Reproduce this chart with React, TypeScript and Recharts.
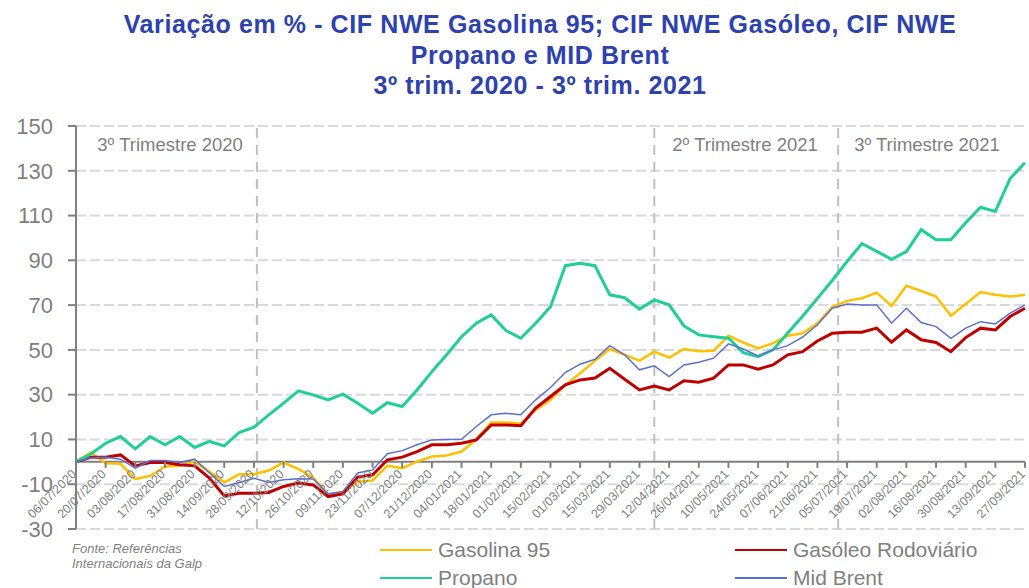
import React from "react";
import {
  LineChart,
  Line,
  XAxis,
  YAxis,
  CartesianGrid,
  ReferenceLine,
} from "recharts";

// weekly dates, one label every 2 weeks on the axis
const DATES = [
  "06/07/2020", "13/07/2020", "20/07/2020", "27/07/2020", "03/08/2020", "10/08/2020",
  "17/08/2020", "24/08/2020", "31/08/2020", "07/09/2020", "14/09/2020", "21/09/2020",
  "28/09/2020", "05/10/2020", "12/10/2020", "19/10/2020", "26/10/2020", "02/11/2020",
  "09/11/2020", "16/11/2020", "23/11/2020", "30/11/2020", "07/12/2020", "14/12/2020",
  "21/12/2020", "28/12/2020", "04/01/2021", "11/01/2021", "18/01/2021", "25/01/2021",
  "01/02/2021", "08/02/2021", "15/02/2021", "22/02/2021", "01/03/2021", "08/03/2021",
  "15/03/2021", "22/03/2021", "29/03/2021", "05/04/2021", "12/04/2021", "19/04/2021",
  "26/04/2021", "03/05/2021", "10/05/2021", "17/05/2021", "24/05/2021", "31/05/2021",
  "07/06/2021", "14/06/2021", "21/06/2021", "28/06/2021", "05/07/2021", "12/07/2021",
  "19/07/2021", "26/07/2021", "02/08/2021", "09/08/2021", "16/08/2021", "23/08/2021",
  "30/08/2021", "06/09/2021", "13/09/2021", "20/09/2021", "27/09/2021",
];

const GASOLINA_95 = [
  0, 4.2, -0.6, -0.9, -7.7, -6.3, -2.1, -1.8, 0.1, -4.3,
  -9.2, -5.5, -5.5, -3.9, -0.3, -3.3, -7, -14.7, -13.7, -8.8,
  -8.3, -1.8, -2.8, 0.1, 2.4, 2.8, 4.6, 10, 17.6, 17.6,
  17, 23.2, 27.7, 34.4, 39.6, 45.1, 50.4, 47.8, 45.2, 49.2,
  46.6, 50.4, 49.4, 49.6, 56.3, 53.3, 50.7, 53, 56.3, 57.4,
  61.9, 69.1, 71.9, 73.1, 75.6, 69.6, 78.6, 76.3, 73.8, 65.3,
  70.5, 75.8, 74.6, 73.8, 74.6,
];

const GASOLEO = [
  0, 2, 2.1, 3.1, -1.8, -0.3, -0.3, -1.3, -1.8, -7.3,
  -15.2, -14, -14, -13.7, -11, -9.5, -10.3, -15.5, -14.3, -6.8,
  -5.8, 0.9, 2.1, 4.6, 7.6, 7.6, 8.3, 9.8, 16.5, 16.5,
  16.1, 24, 29.2, 34.4, 36.6, 37.4, 41.8, 36.9, 32.1, 33.9,
  32.1, 36.2, 35.6, 37.4, 43.3, 43.3, 41.4, 43.3, 47.8, 49.2,
  54, 57.4, 57.9, 57.9, 59.7, 53.4, 58.9, 54.5, 53.3, 49.2,
  55.5, 59.7, 58.9, 64.9, 68.6,
];

const PROPANO = [
  0, 3.5, 8.3, 11.3, 5.8, 11.3, 7.6, 11.3, 6.4, 9.1,
  7.1, 13.1, 15.5, 21, 26.2, 31.7, 29.9, 27.7, 30.2, 26.2,
  21.7, 26.4, 24.7, 32.1, 40.3, 47.8, 55.9, 61.9, 65.6, 58.6,
  55.2, 61.9, 69.3, 87.6, 88.7, 87.6, 74.6, 73.3, 68.2, 72.3,
  70.1, 60.7, 56.7, 55.9, 55.2, 48.8, 47, 50, 57.5, 65,
  73, 81, 89.5, 97.5, 94, 90.5, 93.9, 103.7, 99.2, 99.2,
  106.8, 113.7, 111.8, 126.6, 133.6,
];

const MID_BRENT = [
  0, 1.8, 2, 1.2, -2.8, 0.6, 0.6, -0.3, 1.2, -5,
  -11, -9.2, -7.3, -9.2, -8, -7.6, -7.7, -14.3, -13.2, -5,
  -3.6, 3.6, 5, 7.6, 9.8, 10, 10.1, 15.8, 21, 21.7,
  21, 27.7, 33.2, 39.9, 43.6, 45.8, 51.9, 47.8, 41.1, 42.9,
  38.1, 43.3, 44.5, 46.3, 52.7, 50.4, 47.3, 50, 51.9, 55.7,
  61.2, 68.6, 70.5, 70.1, 70.1, 61.9, 68.6, 62.2, 60.4, 55.2,
  59.7, 62.6, 61.6, 66.4, 70.1,
];

const Y_TICKS = [-30, -10, 10, 30, 50, 70, 90, 110, 130, 150];

// quarter separators (in week index units) and their captions
const QUARTER_MARKS = [12.2, 39, 51.4];
const QUARTER_LABELS = ["3º Trimestre 2020", "2º Trimestre 2021", "3º Trimestre 2021"];

const SERIES = [
  { key: "gasolina", name: "Gasolina 95", color: "#ffc000", width: 2.5 },
  { key: "gasoleo", name: "Gasóleo Rodoviário", color: "#c00000", width: 3 },
  { key: "propano", name: "Propano", color: "#1fcf98", width: 3 },
  { key: "brent", name: "Mid Brent", color: "#5a6fd0", width: 1.5 },
];

const data = DATES.map((date, i) => ({
  idx: i,
  date,
  gasolina: GASOLINA_95[i],
  gasoleo: GASOLEO[i],
  propano: PROPANO[i],
  brent: MID_BRENT[i],
}));

const X_TICKS = DATES.map((_, i) => i).filter((i) => i % 2 === 0);

const FONT = '"Liberation Sans", Arial, Helvetica, sans-serif';
const GREY = "#7f7f7f";
const W = 1029;
const H = 588;
const TOP = 126;
const BOTTOM = 529;
// the category axis crosses the value axis at 0
const ZERO_Y = TOP + ((BOTTOM - TOP) * 150) / 180;

function DateTick({ x, payload }: any) {
  const tx = x + 1;
  const ty = ZERO_Y + 13;
  return (
    <g>
      <line x1={x} x2={x} y1={ZERO_Y} y2={ZERO_Y + 6} stroke="#808080" strokeWidth={2} />
      <text
        x={tx}
        y={ty}
        transform={`rotate(-45 ${tx} ${ty})`}
        textAnchor="end"
        fontSize={12.5}
        fill={GREY}
        fontFamily={FONT}
      >
        {DATES[payload.value]}
      </text>
    </g>
  );
}

const quarterLabel = (text: string, side: "left" | "right", gap: number) => (props: any) => {
  const { viewBox } = props;
  const x = side === "left" ? viewBox.x - gap : viewBox.x + gap;
  return (
    <text
      x={x}
      y={viewBox.y + 25}
      textAnchor={side === "left" ? "end" : "start"}
      fontSize={18.5}
      fill={GREY}
      fontFamily={FONT}
    >
      {text}
    </text>
  );
};

const legendPos = [
  { left: 380, top: 550 },
  { left: 735, top: 550 },
  { left: 380, top: 578 },
  { left: 735, top: 578 },
];

export default function App() {
  return (
    <div
      style={{
        position: "absolute",
        left: 0,
        top: 0,
        width: W,
        height: H,
        background: "#fff",
        overflow: "hidden",
        fontFamily: FONT,
      }}
    >
      <div
        style={{
          position: "absolute",
          left: 40,
          top: 9,
          width: 1000,
          textAlign: "center",
          color: "#2d41af",
          fontWeight: "bold",
          fontSize: 25,
          lineHeight: "30.5px",
          letterSpacing: 0.6,
        }}
      >
        <div>Variação em % - CIF NWE Gasolina 95; CIF NWE Gasóleo, CIF NWE</div>
        <div>Propano e MID Brent</div>
        <div>3º trim. 2020 - 3º trim. 2021</div>
      </div>

      <LineChart
        width={W}
        height={H}
        data={data}
        margin={{ top: TOP, right: 4, bottom: H - BOTTOM - 1, left: 0 }}
      >
        <CartesianGrid
          vertical={false}
          stroke="#d9d9d9"
          strokeWidth={2}
          strokeDasharray="10 4"
        />
        <XAxis
          dataKey="idx"
          type="number"
          domain={[0, DATES.length - 1]}
          ticks={X_TICKS}
          interval={0}
          height={1}
          axisLine={false}
          tickLine={false}
          tick={<DateTick />}
        />
        <YAxis
          domain={[-30, 150]}
          ticks={Y_TICKS}
          interval={0}
          width={76}
          axisLine={{ stroke: "#808080", strokeWidth: 2 }}
          tickLine={{ stroke: "#808080", strokeWidth: 2 }}
          tickSize={8}
          tickMargin={15}
          tick={{ fontSize: 22, fill: GREY, fontFamily: FONT }}
        />
        <ReferenceLine
          x={QUARTER_MARKS[0]}
          stroke="#bfbfbf"
          strokeWidth={2}
          strokeDasharray="10 7"
          label={quarterLabel(QUARTER_LABELS[0], "left", 14)}
        />
        <ReferenceLine
          x={QUARTER_MARKS[1]}
          stroke="#bfbfbf"
          strokeWidth={2}
          strokeDasharray="10 7"
          label={quarterLabel(QUARTER_LABELS[1], "right", 18)}
        />
        <ReferenceLine
          x={QUARTER_MARKS[2]}
          stroke="#bfbfbf"
          strokeWidth={2}
          strokeDasharray="10 7"
          label={quarterLabel(QUARTER_LABELS[2], "right", 16)}
        />
        <ReferenceLine y={0} stroke="#808080" strokeWidth={2} />
        {SERIES.map((s) => (
          <Line
            key={s.key}
            type="linear"
            dataKey={s.key}
            name={s.name}
            stroke={s.color}
            strokeWidth={s.width}
            dot={false}
            activeDot={false}
            isAnimationActive={false}
          />
        ))}
      </LineChart>

      {SERIES.map((s, i) => (
        <div
          key={s.key}
          style={{
            position: "absolute",
            left: legendPos[i].left,
            top: legendPos[i].top - 13,
            height: 26,
            display: "flex",
            alignItems: "center",
            color: GREY,
            fontSize: 21,
            whiteSpace: "nowrap",
          }}
        >
          <span
            style={{
              display: "inline-block",
              width: 52,
              height: 2,
              background: s.color,
              marginRight: 6,
            }}
          />
          {s.name}
        </div>
      ))}

      <div
        style={{
          position: "absolute",
          left: 72,
          top: 542,
          color: GREY,
          fontSize: 13,
          fontStyle: "italic",
          lineHeight: "14.5px",
        }}
      >
        <div>Fonte: Referências</div>
        <div>Internacionais da Galp</div>
      </div>
    </div>
  );
}
